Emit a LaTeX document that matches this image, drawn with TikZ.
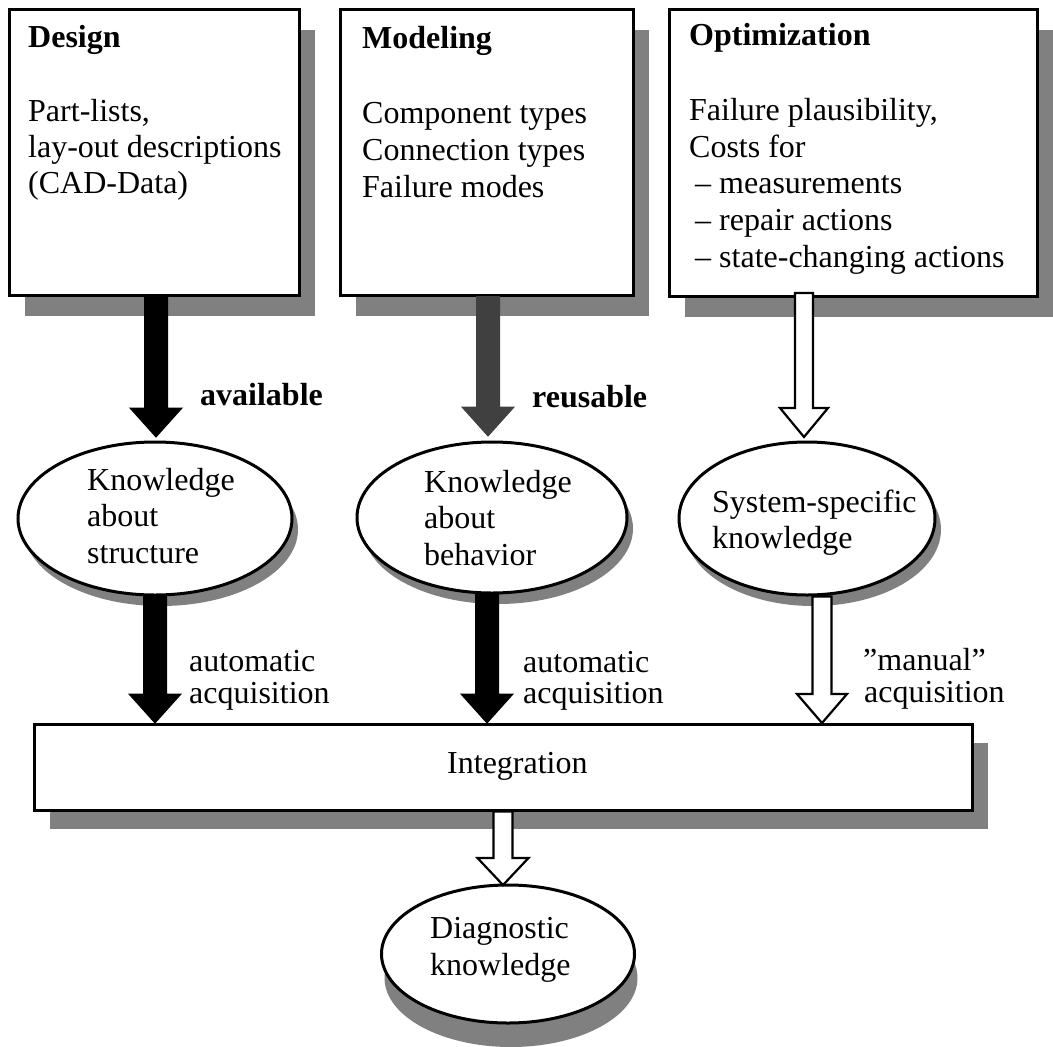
\documentclass[tikz,border=0pt]{standalone}
\usepackage{fontspec}
\setmainfont{Liberation Serif}
\usetikzlibrary{shapes.geometric,shadows,calc}
\definecolor{shgray}{HTML}{808080}
\definecolor{arrgray}{HTML}{404040}
\newcommand{\fsz}{\fontsize{32pt}{36pt}\selectfont}
\newcommand{\blockarrow}[6]{%
  \draw[#1] ($(#2 -| #3)+(-#4,0)$) -- ($(#3)+(-#4,-#6)$) -- ($(#3)+(-#5,-#6)$) -- (#3)
    -- ($(#3)+(#5,-#6)$) -- ($(#3)+(#4,-#6)$) -- ($(#2 -| #3)+(#4,0)$) -- cycle;}
\tikzset{
  box/.style={draw, line width=3pt, fill=white, rectangle, inner sep=0pt,
    general shadow={fill=shgray, shadow xshift=16pt, shadow yshift=-21pt}},
  intbox/.style={draw, line width=3pt, fill=white, rectangle, inner sep=0pt,
    general shadow={fill=shgray, shadow xshift=16pt, shadow yshift=-19pt}},
  oval/.style={draw, line width=3pt, fill=white, ellipse, inner sep=0pt,
    general shadow={fill=shgray, shadow xshift=6pt, shadow yshift=-11pt}},
  ovaldiag/.style={draw, line width=3pt, fill=white, ellipse, inner sep=0pt,
    general shadow={fill=shgray, shadow xshift=3pt, shadow yshift=-24pt}},
  txt/.style={anchor=base west, inner sep=0pt, font=\fsz},
  btxt/.style={anchor=base west, inner sep=0pt, font=\fsz\bfseries},
  blackarr/.style={fill=black, draw=black, line width=1pt, line join=miter},
  grayarr/.style={fill=arrgray, draw=arrgray, line width=1pt, line join=miter},
  whitearr/.style={fill=white, draw=black, line width=2.2pt, line join=miter},
}
\begin{document}
\begin{tikzpicture}[x=1pt,y=-1pt]
\useasboundingbox (0,0) rectangle (1053,1047);

% top boxes
\node[box, minimum width=290pt, minimum height=286pt] (design) at (154,152) {};
\node[box, minimum width=293pt, minimum height=286pt] (modeling) at (486.5,152) {};
\node[box, minimum width=368pt, minimum height=287pt] (optim) at (853,152.5) {};

% texts in boxes
\node[btxt] (dh) at (28,47) {Design};
\node[txt] (d1) at (28,121) {Part-lists,};
\node[txt] (d2) at (28,157) {lay-out descriptions};
\node[txt] (d3) at (28,193) {(CAD-Data)};

\node[btxt] (mh) at (362,48) {Modeling};
\node[txt] (m1) at (362,123) {Component types};
\node[txt] (m2) at (362,160) {Connection types};
\node[txt] (m3) at (362,197) {Failure modes};

\node[btxt] (oh) at (689,45) {Optimization};
\node[txt] (o1) at (689,120) {Failure plausibility,};
\node[txt] (o2) at (689,157) {Costs for};
\node[txt] (o3) at (695,193) {– measurements};
\node[txt] (o4) at (695,230) {– repair actions};
\node[txt] (o5) at (695,267) {– state-changing actions};

% ellipses
\node[oval, minimum width=274pt, minimum height=153pt] (e1) at (155,518.5) {};
\node[oval, minimum width=270pt, minimum height=151pt] (e2) at (492,517.5) {};
\node[oval, minimum width=256pt, minimum height=153pt] (e3) at (807,518.5) {};

\node[txt] (k11) at (87,490) {Knowledge};
\node[txt] (k12) at (87,526) {about};
\node[txt] (k13) at (87,563) {structure};
\node[txt] (k21) at (424,492) {Knowledge};
\node[txt] (k22) at (424,528) {about};
\node[txt] (k23) at (424,565) {behavior};
\node[txt] (k31) at (712,512) {System-specific};
\node[txt] (k32) at (712,548) {knowledge};

% integration box
\node[intbox, minimum width=938pt, minimum height=86pt] (integ) at (503,767) {};
\node[txt] (it) at (447,773) {Integration};

% diagnostic ellipse
\node[ovaldiag, minimum width=253pt, minimum height=138pt] (e4) at (508,954) {};
\node[txt] (g1) at (430,938) {Diagnostic};
\node[txt] (g2) at (430,975) {knowledge};

% labels
\node[btxt] (lav) at (200,405) {available};
\node[btxt] (lre) at (532,407) {reusable};
\node[txt] (la1) at (189,671) {automatic};
\node[txt] (la2) at (189,703) {acquisition};
\node[txt] (lb1) at (523,672) {automatic};
\node[txt] (lb2) at (523,703) {acquisition};
\node[txt] (lc1) at (863,670) {”manual”};
\node[txt] (lc2) at (864,702) {acquisition};

% arrow end points
\coordinate (t1) at (156,437);
\coordinate (t2) at (488,436);
\coordinate (t3) at (804,437);
\coordinate (s3) at (804,293);
\coordinate (u1) at (155,723);
\coordinate (u2) at (487,723);
\coordinate (u3) at (822,723);
\coordinate (v1) at (503,885);

% arrows
\blockarrow{blackarr}{design.south}{t1}{11.5}{26}{29}
\blockarrow{grayarr}{modeling.south}{t2}{11.5}{26}{29}
\blockarrow{whitearr}{s3}{t3}{9}{24}{29}
\blockarrow{blackarr}{e1.south}{u1}{11.5}{26}{29}
\blockarrow{blackarr}{e2.south}{u2}{11.5}{26}{29}
\blockarrow{whitearr}{e3.south}{u3}{9.5}{25}{29}
\blockarrow{whitearr}{integ.south}{v1}{9.5}{25.5}{27}
\end{tikzpicture}
\end{document}
